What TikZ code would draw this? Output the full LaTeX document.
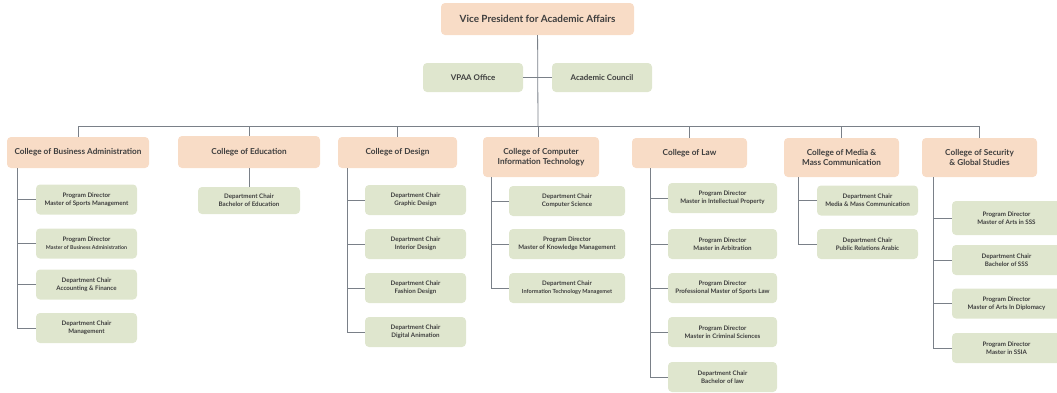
\documentclass[tikz,border=0pt]{standalone}
\usepackage{fontspec}
\setmainfont{Lato}
\usetikzlibrary{positioning}
\definecolor{peach}{RGB}{248,220,198}
\definecolor{sage}{RGB}{223,230,206}
\definecolor{wire}{RGB}{122,128,136}
\definecolor{ink}{RGB}{62,62,62}
\newcommand{\two}[2]{#1\\#2}

\begin{document}
\begin{tikzpicture}[x=1pt, y=-1pt,
    head/.style={fill=peach, rounded corners=4pt, align=center, inner sep=0pt, text=ink, font=\bfseries\fontsize{8.2}{10}\selectfont},
    unit/.style={fill=sage, rounded corners=4pt, align=center, inner sep=0pt, text=ink, minimum height=30pt, font=\bfseries\fontsize{6.2}{8}\selectfont},
    wiring/.style={draw=wire, line width=0.8pt}]
        \useasboundingbox (0,0) rectangle (1057,392);
        %nodes
        \node[head, minimum width=193pt, minimum height=32pt, font=\bfseries\fontsize{9.9}{12}\selectfont] (vp) at (537.5, 19) {Vice President for Academic Affairs};
        \node[unit, minimum width=100pt, minimum height=29pt, font=\bfseries\fontsize{7.9}{9.5}\selectfont] (office) at (473, 77.5) {VPAA Office};
        \node[unit, minimum width=100pt, minimum height=29pt, font=\bfseries\fontsize{7.9}{9.5}\selectfont] (council) at (602, 77.5) {Academic Council};
        \coordinate (bus) at (538, 126);
        % colleges
        \node[head, minimum width=142pt, minimum height=31pt] (cba) at (78, 152.5) {College of Business Administration};
        \node[head, minimum width=142pt, minimum height=32pt] (coe) at (249, 152) {College of Education};
        \node[head, minimum width=119pt, minimum height=31pt] (cod) at (397.5, 152.5) {College of Design};
        \node[head, minimum width=116pt, minimum height=40pt] (ccit) at (541, 157) {\two{College of Computer}{Information Technology}};
        \node[head, minimum width=115pt, minimum height=30pt] (law) at (689.5, 153) {College of Law};
        \node[head, minimum width=115pt, minimum height=39pt] (media) at (841.5, 157.5) {\two{College of Media \&}{Mass Communication}};
        \node[head, minimum width=115pt, minimum height=39pt] (sec) at (979.5, 157.5) {\two{College of Security}{\& Global Studies}};
        % business administration
        \node[unit, minimum width=101pt] (cba1) at (86.5, 199.5) {\two{Program Director}{Master of Sports Management}};
        \node[unit, minimum width=101pt] (cba2) at (86.5, 243.5) {\two{Program Director}{\fontsize{5.3}{7}\selectfont Master of Business Administration}};
        \node[unit, minimum width=101pt] (cba3) at (86.5, 284.5) {\two{Department Chair}{Accounting \& Finance}};
        \node[unit, minimum width=101pt] (cba4) at (86.5, 328) {\two{Department Chair}{Management}};
        % education
        \node[unit, minimum width=102pt, minimum height=27pt] (coe1) at (249, 200.5) {\two{Department Chair}{Bachelor of Education}};
        % design
        \node[unit, minimum width=101pt] (cod1) at (415.5, 200) {\two{Department Chair}{Graphic Design}};
        \node[unit, minimum width=101pt] (cod2) at (415.5, 244) {\two{Department Chair}{Interior Design}};
        \node[unit, minimum width=101pt] (cod3) at (415.5, 288) {\two{Department Chair}{Fashion Design}};
        \node[unit, minimum width=101pt] (cod4) at (415.5, 332) {\two{Department Chair}{Digital Animation}};
        % computer information technology
        \node[unit, minimum width=116pt] (ccit1) at (567, 201) {\two{Department Chair}{Computer Science}};
        \node[unit, minimum width=116pt] (ccit2) at (567, 244) {\two{Program Director}{Master of Knowledge Management}};
        \node[unit, minimum width=116pt] (ccit3) at (567, 288) {\two{Department Chair}{\fontsize{5.6}{7.4}\selectfont Information Technology Managemet}};
        % law
        \node[unit, minimum width=109pt] (law1) at (722.5, 198) {\two{Program Director}{Master in Intellectual Property}};
        \node[unit, minimum width=109pt] (law2) at (722.5, 244) {\two{Program Director}{Master in Arbitration}};
        \node[unit, minimum width=109pt] (law3) at (722.5, 288) {\two{Program Director}{Professional Master of Sports Law}};
        \node[unit, minimum width=109pt] (law4) at (722.5, 332) {\two{Program Director}{Master in Criminal Sciences}};
        \node[unit, minimum width=109pt] (law5) at (722.5, 377) {\two{Department Chair}{Bachelor of law}};
        % media
        \node[unit, minimum width=101pt] (media1) at (867.5, 200.5) {\two{Department Chair}{Media \& Mass Communication}};
        \node[unit, minimum width=101pt] (media2) at (867.5, 244) {\two{Department Chair}{Public Relations Arabic}};
        % security
        \node[unit, minimum width=109pt, minimum height=34pt] (sec1) at (1006.5, 218) {\two{Program Director}{Master of Arts in SSS}};
        \node[unit, minimum width=109pt] (sec2) at (1006.5, 260) {\two{Department Chair}{Bachelor of SSS}};
        \node[unit, minimum width=109pt] (sec3) at (1006.5, 303.5) {\two{Program Director}{Master of Arts In Diplomacy}};
        \node[unit, minimum width=109pt] (sec4) at (1006.5, 348) {\two{Program Director}{Master in SSIA}};
        %edges
        \path [wiring] (vp) -- (bus);
        \path [wiring] (office) -- (council);
        \path [wiring] (bus) -| (cba);
        \path [wiring] (bus) -| (coe);
        \path [wiring] (bus) -| (cod);
        \path [wiring] (bus) -- (bus |- ccit.north);
        \path [wiring] (bus) -| (law);
        \path [wiring] (bus) -| (media);
        \path [wiring] (bus) -| (sec);
        \path [wiring] ([xshift=11pt]cba.south west) |- (cba1);
        \path [wiring] ([xshift=11pt]cba.south west) |- (cba2);
        \path [wiring] ([xshift=11pt]cba.south west) |- (cba3);
        \path [wiring] ([xshift=11pt]cba.south west) |- (cba4);
        \path [wiring] (coe) -- (coe1);
        \path [wiring] ([xshift=10pt]cod.south west) |- (cod1);
        \path [wiring] ([xshift=10pt]cod.south west) |- (cod2);
        \path [wiring] ([xshift=10pt]cod.south west) |- (cod3);
        \path [wiring] ([xshift=10pt]cod.south west) |- (cod4);
        \path [wiring] ([xshift=9pt]ccit.south west) |- (ccit1);
        \path [wiring] ([xshift=9pt]ccit.south west) |- (ccit2);
        \path [wiring] ([xshift=9pt]ccit.south west) |- (ccit3);
        \path [wiring] ([xshift=19pt]law.south west) |- (law1);
        \path [wiring] ([xshift=19pt]law.south west) |- (law2);
        \path [wiring] ([xshift=19pt]law.south west) |- (law3);
        \path [wiring] ([xshift=19pt]law.south west) |- (law4);
        \path [wiring] ([xshift=19pt]law.south west) |- (law5);
        \path [wiring] ([xshift=15pt]media.south west) |- (media1);
        \path [wiring] ([xshift=15pt]media.south west) |- (media2);
        \path [wiring] ([xshift=12pt]sec.south west) |- (sec1);
        \path [wiring] ([xshift=12pt]sec.south west) |- (sec2);
        \path [wiring] ([xshift=12pt]sec.south west) |- (sec3);
        \path [wiring] ([xshift=12pt]sec.south west) |- (sec4);
      \end{tikzpicture}
\end{document}
